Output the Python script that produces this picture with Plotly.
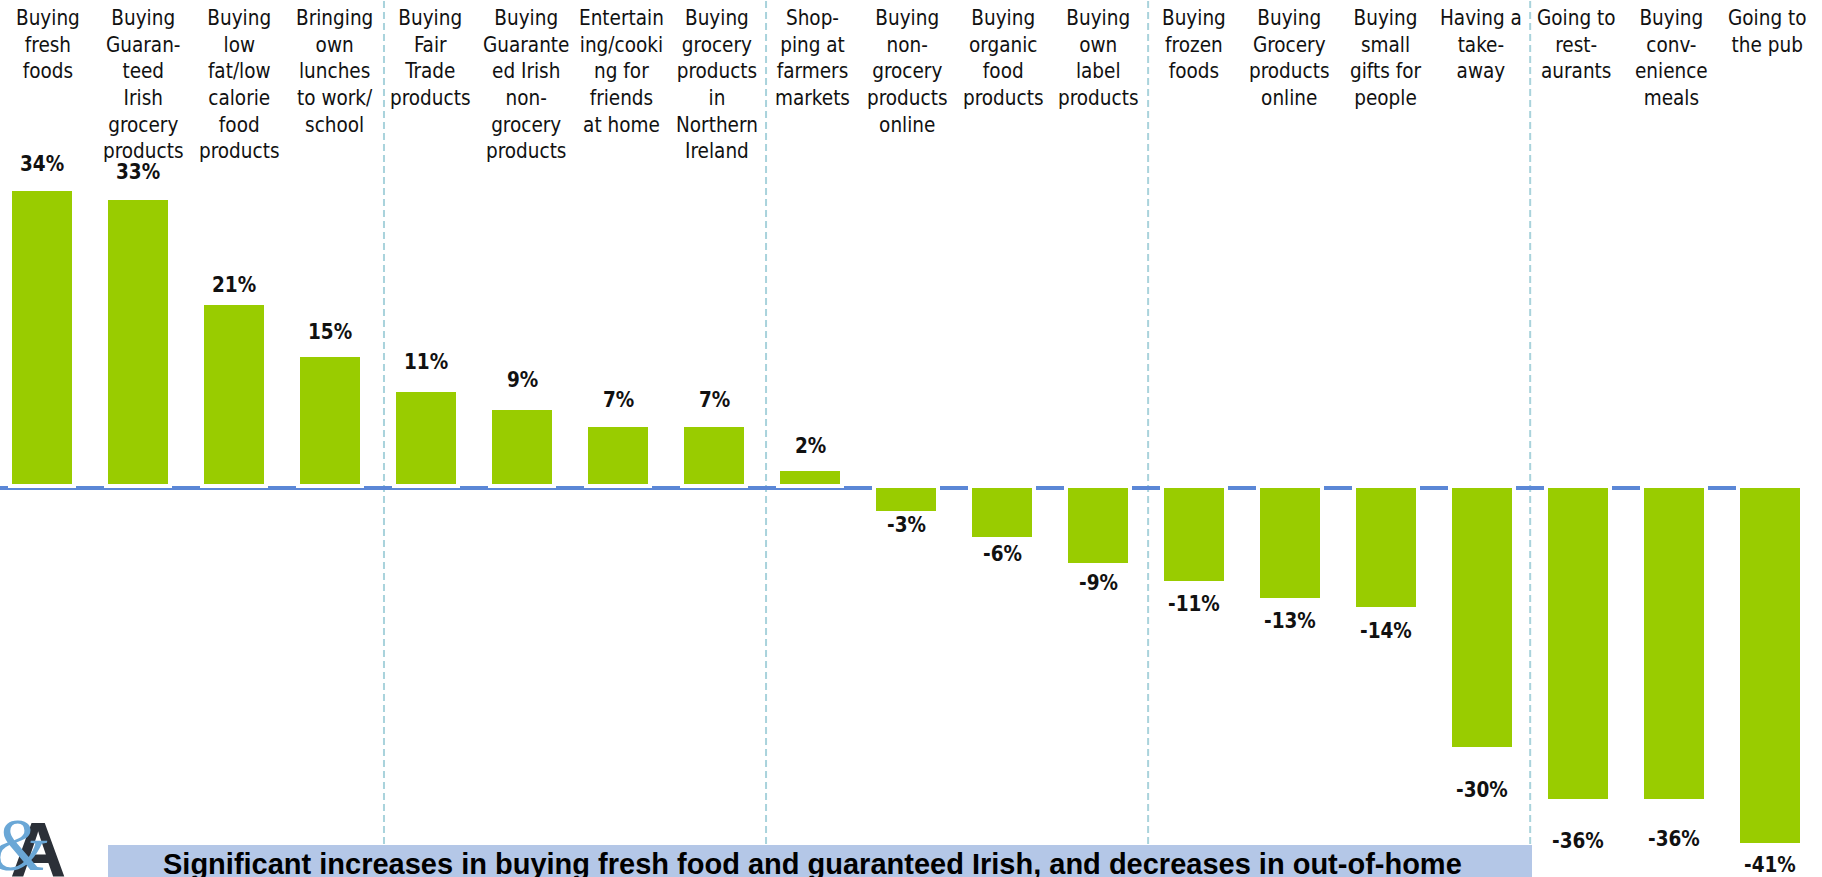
import plotly.graph_objects as go

# Change in shopping behaviour (% net change)
categories = [
    "Buying<br>fresh<br>foods",
    "Buying<br>Guaran-<br>teed<br>Irish<br>grocery<br>products",
    "Buying<br>low<br>fat/low<br>calorie<br>food<br>products",
    "Bringing<br>own<br>lunches<br>to work/<br>school",
    "Buying<br>Fair<br>Trade<br>products",
    "Buying<br>Guarante<br>ed Irish<br>non-<br>grocery<br>products",
    "Entertain<br>ing/cooki<br>ng for<br>friends<br>at home",
    "Buying<br>grocery<br>products<br>in<br>Northern<br>Ireland",
    "Shop-<br>ping at<br>farmers<br>markets",
    "Buying<br>non-<br>grocery<br>products<br>online",
    "Buying<br>organic<br>food<br>products",
    "Buying<br>own<br>label<br>products",
    "Buying<br>frozen<br>foods",
    "Buying<br>Grocery<br>products<br>online",
    "Buying<br>small<br>gifts for<br>people",
    "Having a<br>take-<br>away",
    "Going to<br>rest-<br>aurants",
    "Buying<br>conv-<br>enience<br>meals",
    "Going to<br>the pub",
]
values = [34, 33, 21, 15, 11, 9, 7, 7, 2, -3, -6, -9, -11, -13, -14, -30, -36, -36, -41]
group_sizes = [4, 4, 4, 4, 3]
headline = ("Significant increases in buying fresh food and guaranteed Irish, "
            "and decreases in out-of-home")

# label placement tweaks (pixels from bar end), as in the original slide
label_gap = [25, 26, 18, 23, 28, 28, 25, 25, 23, 12, 15, 18, 21, 21, 22, 41, 40, 38, 20]

W, H = 1822, 877
GREEN = "#99cc00"
ZERO_BLUE = "#5b87d6"
SEP_BLUE = "#a9d3dc"
BANNER = "#b4c7e7"
LABEL_FONT = "DejaVu Sans Condensed, DejaVu Sans, sans-serif"

fig = go.Figure(go.Bar(
    x=categories, y=values,
    width=0.67,
    marker=dict(color=GREEN, line=dict(color="white", width=4)),
    hoverinfo="skip",
))

annotations = []
for i, (cat, v) in enumerate(zip(categories, values)):
    annotations.append(dict(
        x=cat, y=1, xref="x", yref="paper", yanchor="top",
        text=cat, showarrow=False, align="center",
        xshift=6 - 0.5 * i, yshift=-4,
        font=dict(family=LABEL_FONT, size=20.5, color="#111111"),
    ))
    annotations.append(dict(
        x=cat, y=v, xref="x", yref="y", yanchor="middle",
        text=f"<b>{v}%</b>", showarrow=False,
        yshift=label_gap[i] if v >= 0 else -label_gap[i],
        font=dict(family=LABEL_FONT, size=20.5, color="#111111"),
    ))

# headline banner text (cut by the bottom edge like the slide)
annotations.append(dict(
    x=812 / W, y=(H - 864) / H, xref="paper", yref="paper",
    xanchor="center", yanchor="middle", showarrow=False,
    text=f"<b>{headline}</b>",
    font=dict(family="Liberation Sans, Arial", size=29, color="#000000"),
))
# logo
annotations.append(dict(
    x=38 / W, y=(H - 804) / H, xref="paper", yref="paper",
    xanchor="center", yanchor="top", showarrow=False, text="<b>A</b>",
    font=dict(family="Liberation Sans, Arial", size=78, color="#2b3038"),
))
annotations.append(dict(
    x=19 / W, y=(H - 802) / H, xref="paper", yref="paper",
    xanchor="center", yanchor="top", showarrow=False, text="<i>&</i>",
    font=dict(family="Liberation Serif, serif", size=74, color="#6aa7d6"),
))

shapes = []
# group separators
b = 0
for k, g in enumerate(group_sizes[:-1]):
    b += g
    xs = b - 0.5 + 0.06 - 0.02 * k
    shapes.append(dict(
        type="line", xref="x", yref="paper", x0=xs, x1=xs, y0=0, y1=1,
        line=dict(color=SEP_BLUE, width=2, dash="7px,4px"), layer="below",
    ))
# zero line
shapes.append(dict(
    type="line", xref="x", yref="y", x0=-0.44, x1=len(values) - 1,
    ysizemode="pixel", yanchor=0, y0=-1.5, y1=-1.5,
    line=dict(color=ZERO_BLUE, width=4), layer="below",
))
# banner
shapes.append(dict(
    type="rect", xref="paper", yref="paper",
    x0=108 / W, x1=1532 / W, y0=-0.05, y1=(H - 845) / H,
    fillcolor=BANNER, line=dict(width=0), layer="above",
))

fig.update_layout(
    width=W, height=H, autosize=False,
    margin=dict(l=0, r=0, t=0, b=0),
    paper_bgcolor="white", plot_bgcolor="white",
    showlegend=False, bargap=0,
    xaxis=dict(range=[-0.44, 18.54], showticklabels=False, showgrid=False,
               zeroline=False, fixedrange=True),
    yaxis=dict(range=[-44.63, 55.6], showticklabels=False, showgrid=False,
               zeroline=False, fixedrange=True),
    annotations=annotations,
    shapes=shapes,
)

fig.write_html("out.html", config={"displayModeBar": False},
               post_script="document.body.style.margin='0';document.body.style.overflow='hidden';")
